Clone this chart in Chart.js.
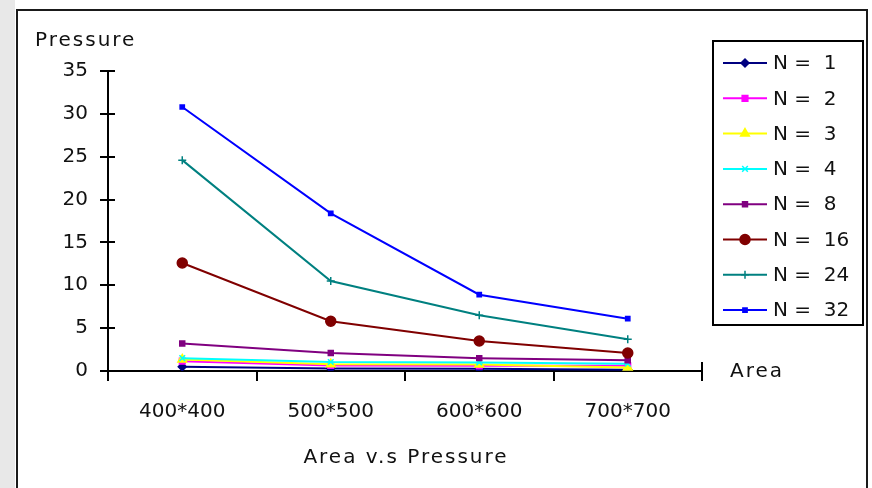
<!DOCTYPE html>
<html>
<head>
<meta charset="utf-8">
<script src="https://cdn.jsdelivr.net/npm/chart.js@4.4.0/dist/chart.umd.min.js"></script>
<style>
html,body{margin:0;padding:0;background:#fff;}
#wrap{width:872px;height:488px;position:relative;}
</style>
</head>
<body>
<div id="wrap"><canvas id="c" width="872" height="488"></canvas></div>
<script>
const categories = ['400*400', '500*500', '600*600', '700*700'];
const seriesNames = ['N =  1', 'N =  2', 'N =  3', 'N =  4', 'N =  8', 'N =  16', 'N =  24', 'N =  32'];
const n1  = [0.5, 0.3, 0.25, 0.15];
const n2  = [1.15, 0.65, 0.6, 0.6];
const n3  = [1.35, 0.8, 0.75, 0.4];
const n4  = [1.5, 1.05, 1.0, 0.85];
const n8  = [3.2, 2.1, 1.5, 1.25];
const n16 = [12.6, 5.8, 3.5, 2.1];
const n24 = [24.6, 10.5, 6.5, 3.7];
const n32 = [30.8, 18.4, 8.9, 6.1];
const yTicks = [0, 5, 10, 15, 20, 25, 30, 35];
const yTitle = 'Pressure';
const xTitle = 'Area v.s Pressure';
const xEndLabel = 'Area';

const colors = ['#000080', '#ff00ff', '#ffff00', '#00ffff', '#800080', '#800000', '#008080', '#0000ff'];
const styles = ['rectRot', 'rect', 'triangle', 'crossRot', 'rect', 'circle', 'cross', 'rect'];
const radii  = [4, 4, 5, 4, 3.5, 5, 4, 3];
const allData = [n1, n2, n3, n4, n8, n16, n24, n32];

const FONT = 'DejaVu Sans';

const frame = {
  id: 'frame',
  beforeDraw(chart) {
    const ctx = chart.ctx;
    ctx.save();
    ctx.fillStyle = '#fff';
    ctx.fillRect(0, 0, 872, 488);
    ctx.fillStyle = '#e8e8e8';
    ctx.fillRect(0, 0, 15, 488);
    ctx.strokeStyle = '#1a1a1a';
    ctx.lineWidth = 2;
    ctx.beginPath();
    ctx.moveTo(17, 490); ctx.lineTo(17, 10); ctx.lineTo(867, 10); ctx.lineTo(867, 490);
    ctx.stroke();
    ctx.restore();
  },
  afterDraw(chart) {
    const ctx = chart.ctx;
    const y = chart.scales.y, x = chart.scales.x;
    ctx.save();
    ctx.strokeStyle = '#000';
    ctx.lineWidth = 2;
    // y ticks right side
    yTicks.forEach(v => {
      const py = Math.round(y.getPixelForValue(v));
      ctx.beginPath(); ctx.moveTo(x.left, py); ctx.lineTo(x.left + 7, py); ctx.stroke();
    });
    // end tick of x axis upwards
    ctx.beginPath(); ctx.moveTo(x.right, y.bottom); ctx.lineTo(x.right, y.bottom - 9); ctx.stroke();
    // texts
    ctx.fillStyle = '#111';
    ctx.font = '20px "' + FONT + '"';
    ctx.textBaseline = 'middle';
    ctx.textAlign = 'left';
    ctx.letterSpacing = '2px';
    ctx.fillText(yTitle, 35, 41);
    ctx.fillText(xEndLabel, 730, 372);
    ctx.textAlign = 'center';
    ctx.fillText(xTitle, (x.left + x.right) / 2 + 1, 458);
    ctx.letterSpacing = '0px';
    // legend
    const lx = 713, ly = 41, lw = 150, lh = 284;
    ctx.lineWidth = 2;
    ctx.strokeStyle = '#000';
    ctx.strokeRect(lx, ly, lw, lh);
    chart.data.datasets.forEach((ds, i) => {
      const cy = 63 + i * 35.3;
      ctx.strokeStyle = ds.borderColor;
      ctx.lineWidth = 2;
      ctx.beginPath(); ctx.moveTo(723, cy); ctx.lineTo(767, cy); ctx.stroke();
      ctx.fillStyle = ds.pointBackgroundColor;
      ctx.strokeStyle = ds.pointBorderColor;
      ctx.lineWidth = 1.5;
      Chart.helpers.drawPoint(ctx, {pointStyle: ds.pointStyle, radius: ds.pointRadius, borderWidth: 1.5, rotation: 0}, 745, cy);
      ctx.fillStyle = '#111';
      ctx.textAlign = 'left';
      ctx.font = '20px "' + FONT + '"';
      ctx.fillText(ds.label, 773, cy + 1);
    });
    ctx.restore();
  }
};

const datasets = allData.map((d, i) => ({
  label: seriesNames[i],
  data: d,
  borderColor: colors[i],
  backgroundColor: colors[i],
  pointBackgroundColor: colors[i],
  pointBorderColor: colors[i],
  pointStyle: styles[i],
  pointRadius: radii[i],
  pointBorderWidth: 1.5,
  borderWidth: 2,
  tension: 0,
  fill: false,
  order: 8 - i
}));

new Chart(document.getElementById('c'), {
  type: 'line',
  data: { labels: categories, datasets },
  options: {
    responsive: false,
    animation: false,
    devicePixelRatio: 1,
    layout: { padding: { left: 0, top: 71, right: 170, bottom: 0 } },
    plugins: { legend: { display: false }, title: { display: false }, tooltip: { enabled: false } },
    scales: {
      x: {
        type: 'category',
        offset: true,
        afterFit(s) { s.height = 117; },
        grid: { offset: true, drawOnChartArea: false, color: '#000', lineWidth: 2, tickLength: 10 },
        border: { display: true, color: '#000', width: 2 },
        ticks: { color: '#111', font: { family: FONT, size: 20 }, padding: 19, maxRotation: 0 }
      },
      y: {
        min: 0, max: 35,
        afterFit(s) { s.width = 108; },
        afterBuildTicks(s) { s.ticks = yTicks.map(v => ({ value: v })); },
        grid: { drawOnChartArea: false, color: '#000', lineWidth: 2, tickLength: 8 },
        border: { display: true, color: '#000', width: 2 },
        ticks: { color: '#111', font: { family: FONT, size: 20 }, padding: 12 }
      }
    }
  },
  plugins: [frame]
});
</script>
</body>
</html>
